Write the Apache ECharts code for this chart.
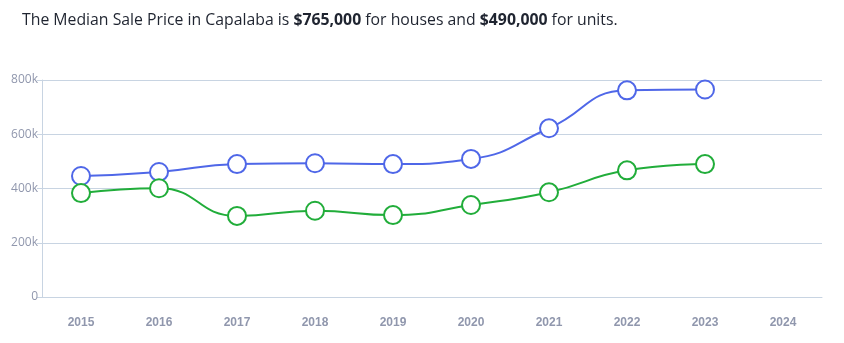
<!DOCTYPE html>
<html><head><meta charset="utf-8">
<script src="https://cdn.jsdelivr.net/npm/echarts@6/dist/echarts.min.js"></script>
<style>html,body{margin:0;padding:0;background:#fff}#c{width:844px;height:343px}</style>
</head><body><div id="c"></div>
<script>
const years = ['2015','2016','2017','2018','2019','2020','2021','2022','2023','2024'];
const houses = [446000, 461000, 490000, 493000, 490000, 509000, 622000, 762000, 765000, null];
const units = [383000, 401000, 299000, 318000, 302000, 339000, 386000, 467000, 490000, null];
const yTicks = [0, 200000, 400000, 600000, 800000];

const chart = echarts.init(document.getElementById('c'), null, {renderer:'canvas'});
const axisColor = '#c8d4e2';
const labelColor = '#9097ad';
function series(name, data, color){
  return {name, type:'line', data, smooth:true, symbol:'circle', symbolSize:18,
    itemStyle:{color:'#fff', borderColor:color, borderWidth:2},
    lineStyle:{color, width:2}, z:3};
}
chart.setOption({
  animation:false,
  title:{left:17, top:7, text:'The Median Sale Price in Capalaba is {b|$765,000} for houses and {b|$490,000} for units.',
    textStyle:{fontFamily:'Open Sans', fontSize:15.8, fontWeight:'normal', color:'#1f2430',
      rich:{b:{fontFamily:'Open Sans', fontSize:15.8, fontWeight:'bold', color:'#1f2430'}}}},
  grid:{left:42, right:22, top:80, bottom:46},
  xAxis:{type:'category', data:years, boundaryGap:true,
    axisLine:{lineStyle:{color:axisColor}},
    axisTick:{alignWithLabel:true, length:6, lineStyle:{color:axisColor}},
    axisLabel:{color:labelColor, fontSize:12, fontWeight:'bold', margin:20, fontFamily:'Liberation Sans'}},
  yAxis:{type:'value', min:0, max:800000, interval:200000,
    axisLine:{show:true, lineStyle:{color:axisColor}},
    axisTick:{show:true, length:5, lineStyle:{color:axisColor}},
    splitLine:{lineStyle:{color:axisColor}},
    axisLabel:{color:labelColor, fontSize:12, margin:4, fontFamily:'Open Sans',
      formatter:v=> v===0?'0':(v/1000)+'k'}},
  series:[series('Houses', houses, '#4f67e8'), series('Units', units, '#21ad3a')]
});
</script></body></html>
